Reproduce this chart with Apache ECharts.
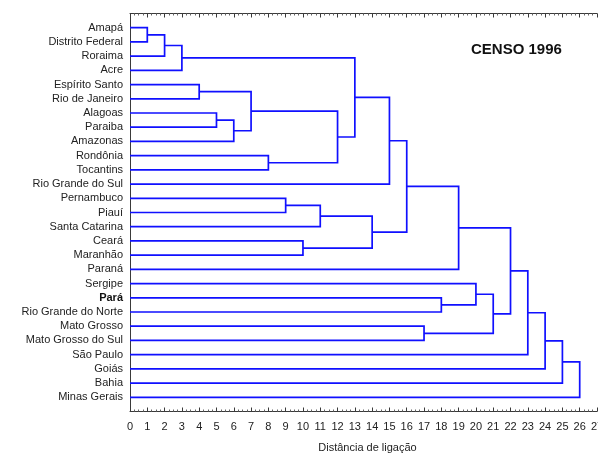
<!DOCTYPE html>
<html>
<head>
<meta charset="utf-8">
<script src="https://cdn.jsdelivr.net/npm/echarts@6/dist/echarts.min.js"></script>
<style>
html,body{margin:0;padding:0;background:#fff;}
#chart{width:598px;height:455px;}
</style>
</head>
<body>
<div id="chart"></div>
<script>
// Leaves (top to bottom)
const leaves = ["Amapá","Distrito Federal","Roraima","Acre","Espírito Santo","Rio de Janeiro","Alagoas","Paraiba","Amazonas","Rondônia","Tocantins","Rio Grande do Sul","Pernambuco","Piauí","Santa Catarina","Ceará","Maranhão","Paraná","Sergipe","Pará","Rio Grande do Norte","Mato Grosso","Mato Grosso do Sul","São Paulo","Goiás","Bahia","Minas Gerais"];
const boldLeaves = ["Pará"];
// Merges: node ids 0..26 are leaves, merge k creates node 27+k
const mergeA = [0, 27, 28, 4, 6, 31, 30, 9, 33, 29, 36, 12, 38, 15, 39, 37, 42, 19, 18, 21, 45, 43, 48, 49, 50, 51];
const mergeB = [1, 2, 3, 5, 7, 8, 32, 10, 34, 35, 11, 13, 14, 16, 40, 41, 17, 20, 44, 22, 46, 47, 23, 24, 25, 26];
const mergeHeight = [1, 2, 3, 4, 5, 6, 7, 8, 12, 13, 15, 9, 11, 10, 14, 16, 19, 18, 20, 17, 21, 22, 23, 24, 25, 26];
const xTicksMax = 27;
const titleText = "CENSO 1996";
const xName = "Distância de ligação";

// node positions (data units)
const nodeH = leaves.map(() => 0);
const nodeY = leaves.map((_, i) => i);
for (let k = 0; k < mergeA.length; k++) {
  nodeH.push(mergeHeight[k]);
  nodeY.push((nodeY[mergeA[k]] + nodeY[mergeB[k]]) / 2);
}
const mergeData = mergeA.map((a, k) => [a, mergeB[k], mergeHeight[k]]);

const chart = echarts.init(document.getElementById('chart'), null, {renderer: 'canvas'});
const axisColor = '#3a3a3a';
const font = '"Liberation Sans", Arial, sans-serif';
chart.setOption({
  animation: false,
  title: {
    text: titleText, left: 466, top: 37,
    textStyle: {fontFamily: font, fontSize: 15, fontWeight: 'bold', color: '#111'}
  },
  grid: {left: 130, right: 1, top: 13.5, bottom: 43.5, containLabel: false, outerBoundsMode: 'none'},
  xAxis: [{
    type: 'value', min: 0, max: xTicksMax, interval: 1, position: 'bottom',
    name: xName, nameLocation: 'middle', nameGap: 31,
    nameTextStyle: {fontFamily: font, fontSize: 11, color: '#222', padding: [0, 0, 0, 8]},
    axisLine: {show: true, onZero: false, lineStyle: {color: axisColor, width: 1}},
    axisTick: {show: true, inside: true, length: 4, lineStyle: {color: axisColor}},
    minorTick: {show: true, splitNumber: 4, length: 2, lineStyle: {color: '#666'}},
    axisLabel: {fontFamily: font, fontSize: 11, color: '#222', margin: 10, showMaxLabel: true, hideOverlap: false},
    splitLine: {show: false}
  }, {
    type: 'value', min: 0, max: xTicksMax, interval: 1, position: 'top',
    axisLine: {show: true, onZero: false, lineStyle: {color: axisColor, width: 1}},
    axisTick: {show: true, inside: true, length: 4, lineStyle: {color: axisColor}},
    minorTick: {show: true, splitNumber: 4, length: 2, lineStyle: {color: '#666'}},
    axisLabel: {show: false},
    splitLine: {show: false}
  }],
  yAxis: {
    type: 'value', min: -1, max: leaves.length, interval: 1, inverse: true,
    axisLine: {show: true, onZero: false, lineStyle: {color: axisColor, width: 1}},
    axisTick: {show: false},
    splitLine: {show: false},
    axisLabel: {
      margin: 7, fontFamily: font, fontSize: 11, color: '#222',
      showMinLabel: true, showMaxLabel: true,
      formatter: function (v) {
        const name = leaves[v];
        if (name === undefined) return '';
        return boldLeaves.indexOf(name) >= 0 ? '{b|' + name + '}' : name;
      },
      rich: {b: {fontFamily: font, fontSize: 11, fontWeight: 'bold', color: '#111'}}
    }
  },
  series: [{
    type: 'custom',
    xAxisIndex: 0,
    clip: false,
    data: mergeData,
    renderItem: function (params, api) {
      const a = api.value(0), b = api.value(1), h = api.value(2);
      const p1 = api.coord([nodeH[a], nodeY[a]]);
      const p2 = api.coord([h, nodeY[a]]);
      const p3 = api.coord([h, nodeY[b]]);
      const p4 = api.coord([nodeH[b], nodeY[b]]);
      return {
        type: 'polyline',
        shape: {points: [p1, p2, p3, p4]},
        style: {stroke: '#1010ff', lineWidth: 1.7, fill: null}
      };
    }
  }]
});
</script>
</body>
</html>
